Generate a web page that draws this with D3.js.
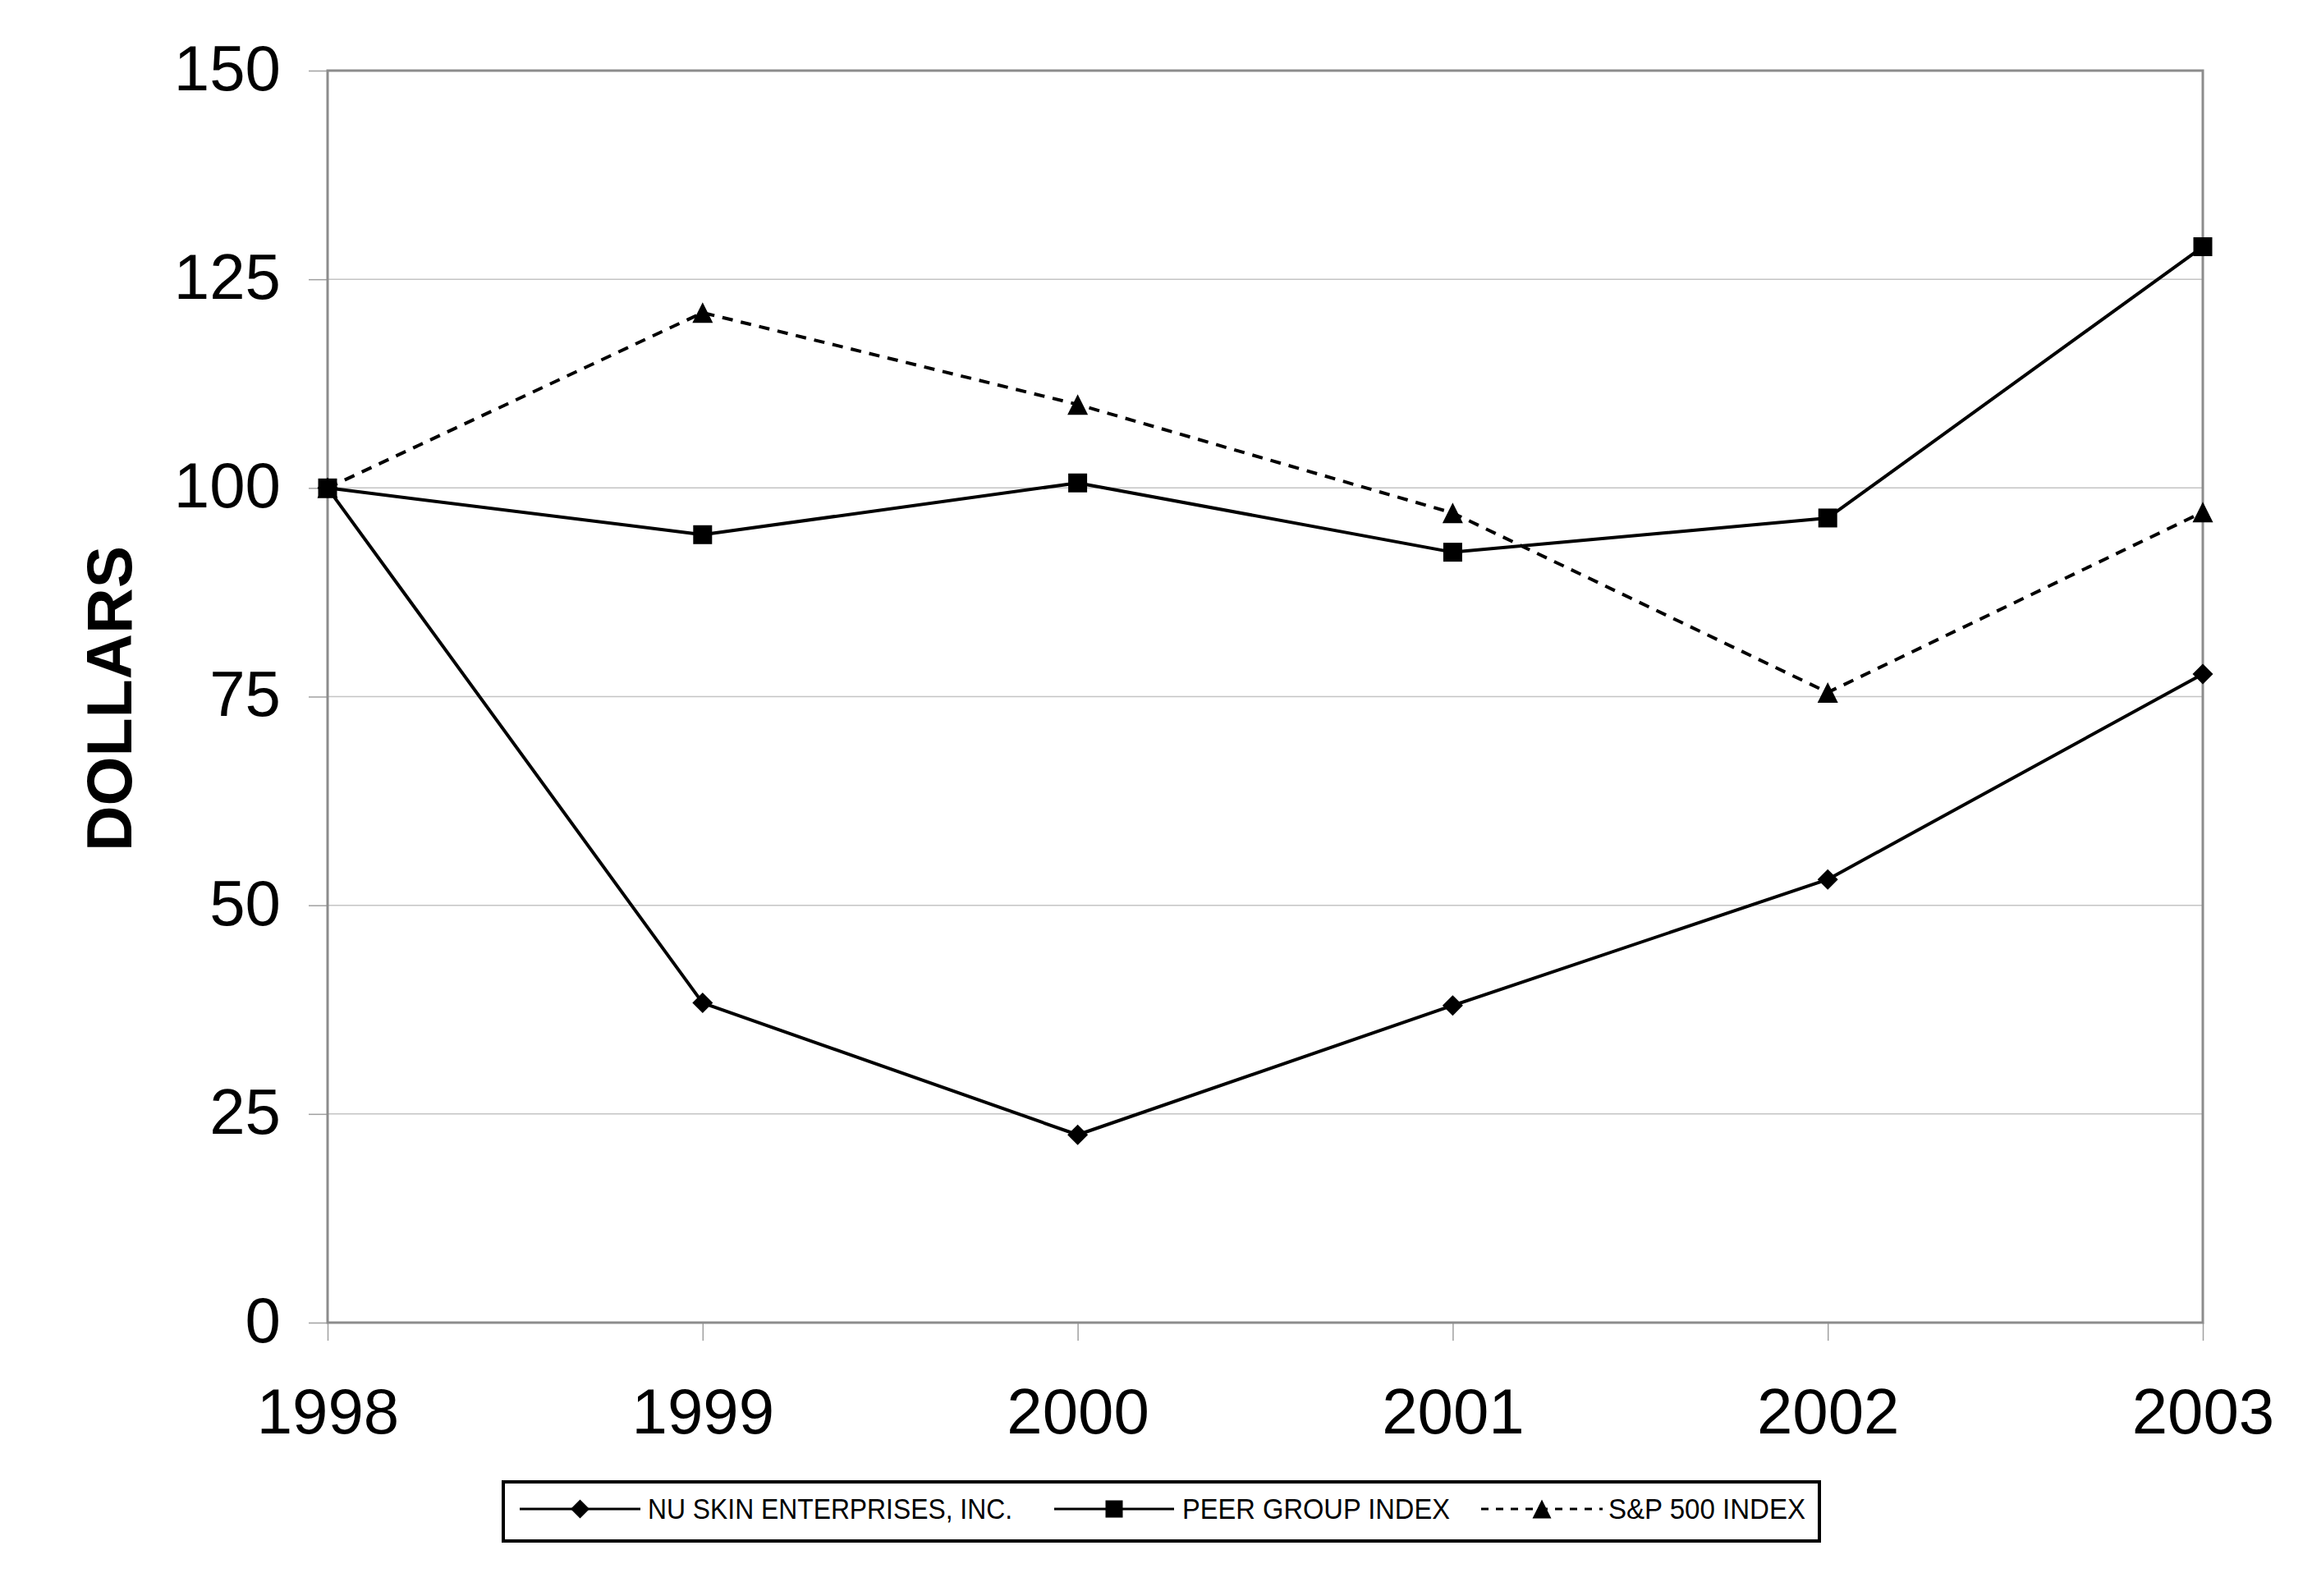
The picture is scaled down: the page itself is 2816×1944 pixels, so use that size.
<!DOCTYPE html>
<html>
<head>
<meta charset="utf-8">
<script src="https://cdn.jsdelivr.net/npm/d3@7"></script>
<style>
  html, body { margin: 0; padding: 0; background: #fff; }
  svg { display: block; }
</style>
</head>
<body>
<svg id="chart" width="2816" height="1944"></svg>
<script>
// ---- Data ----
const years = [1998, 1999, 2000, 2001, 2002, 2003];
const nuSkin = [100, 38.3, 22.5, 38.0, 53.1, 77.7];
const peerGroup = [100, 94.4, 100.6, 92.3, 96.4, 128.9];
const sp500 = [100, 121.0, 110.0, 97.0, 75.5, 97.1];
const yTicks = [0, 25, 50, 75, 100, 125, 150];
const seriesNames = ["NU SKIN ENTERPRISES, INC.", "PEER GROUP INDEX", "S&P 500 INDEX"];

// ---- Layout ----
const L = 399, R = 2683, T = 86, B = 1611;
const FONT = "'Liberation Sans', Arial, Helvetica, sans-serif";

const svg = d3.select("#chart");

const x = d3.scalePoint().domain(years).range([L, R]);
const y = d3.scaleLinear().domain([0, 150]).range([B, T]);

// marker path generators (shape size in px)
function diamondPath(s) { const h = s / 2; return `M0,${-h}L${h},0L0,${h}L${-h},0Z`; }
function squarePath(s) { const h = s / 2; return `M${-h},${-h}H${h}V${h}H${-h}Z`; }
function trianglePath(s) { const h = s / 2; return `M0,${-h}L${h},${h}L${-h},${h}Z`; }

const series = [
  { name: seriesNames[0], values: nuSkin, marker: diamondPath, msize: 25, dash: null },
  { name: seriesNames[1], values: peerGroup, marker: squarePath, msize: 23, dash: null },
  { name: seriesNames[2], values: sp500, marker: trianglePath, msize: 25, dash: "13,10" }
];

// gridlines
svg.append("g").selectAll("line")
  .data(yTicks.filter(d => d !== 0 && d !== 150))
  .join("line")
  .attr("x1", L).attr("x2", R)
  .attr("y1", d => y(d)).attr("y2", d => y(d))
  .attr("stroke", "#c4c4c4").attr("stroke-width", 1.5);

// axes (ticks + labels)
const yAxis = svg.append("g")
  .attr("transform", `translate(${L},0)`)
  .call(d3.axisLeft(y).tickValues(yTicks).tickSize(23).tickPadding(34).tickFormat(d3.format("d")));
yAxis.select(".domain").remove();
yAxis.selectAll(".tick line").attr("stroke", "#a0a0a0").attr("stroke-width", 1.5);
yAxis.selectAll(".tick text")
  .attr("font-family", FONT).attr("font-size", 78).attr("fill", "#000").attr("dy", "0.3em");

const xAxis = svg.append("g")
  .attr("transform", `translate(0,${B})`)
  .call(d3.axisBottom(x).tickSize(22).tickPadding(58).tickFormat(d3.format("d")));
xAxis.select(".domain").remove();
xAxis.selectAll(".tick line").attr("stroke", "#a0a0a0").attr("stroke-width", 1.5);
xAxis.selectAll(".tick text")
  .attr("font-family", FONT).attr("font-size", 78).attr("fill", "#000");

// plot border
svg.append("rect")
  .attr("x", L).attr("y", T).attr("width", R - L).attr("height", B - T)
  .attr("fill", "none").attr("stroke", "#8c8c8c").attr("stroke-width", 3);

// y-axis title
svg.append("text")
  .attr("transform", `translate(160,851) rotate(-90)`)
  .attr("text-anchor", "middle")
  .attr("font-family", FONT).attr("font-weight", "bold").attr("font-size", 77)
  .attr("fill", "#000")
  .text("DOLLARS");

// lines
const line = d3.line().x((d, i) => x(years[i])).y(d => y(d));
const drawOrder = [2, 0, 1];
drawOrder.forEach(k => {
  const s = series[k];
  svg.append("path")
    .datum(s.values)
    .attr("d", line)
    .attr("fill", "none")
    .attr("stroke", "#000")
    .attr("stroke-width", 4)
    .attr("stroke-linejoin", "round")
    .attr("stroke-dasharray", s.dash);
});
drawOrder.forEach(k => {
  const s = series[k];
  svg.append("g").selectAll("path")
    .data(s.values)
    .join("path")
    .attr("transform", (d, i) => `translate(${x(years[i])},${y(d)})`)
    .attr("d", s.marker(s.msize))
    .attr("fill", "#000");
});

// legend
const legend = svg.append("g");
legend.append("rect")
  .attr("x", 613).attr("y", 1805).attr("width", 1603).attr("height", 72)
  .attr("fill", "#fff").attr("stroke", "#000").attr("stroke-width", 4);

const legendItems = [
  { x1: 633, x2: 780, tx: 789, tw: 444 },
  { x1: 1284, x2: 1430, tx: 1440, tw: 326 },
  { x1: 1804, x2: 1952, tx: 1959, tw: 240 }
];
const ly = 1838;
series.forEach((s, i) => {
  const it = legendItems[i];
  legend.append("line")
    .attr("x1", it.x1).attr("x2", it.x2).attr("y1", ly).attr("y2", ly)
    .attr("stroke", "#000").attr("stroke-width", 3)
    .attr("stroke-dasharray", s.dash ? "9,9" : null);
  legend.append("path")
    .attr("transform", `translate(${(it.x1 + it.x2) / 2},${ly})`)
    .attr("d", s.marker(i === 1 ? 21 : 23))
    .attr("fill", "#000");
  legend.append("text")
    .attr("x", it.tx).attr("y", ly + 12)
    .attr("font-family", FONT).attr("font-size", 35).attr("fill", "#000")
    .attr("textLength", it.tw).attr("lengthAdjust", "spacingAndGlyphs")
    .text(s.name);
});
</script>
</body>
</html>
